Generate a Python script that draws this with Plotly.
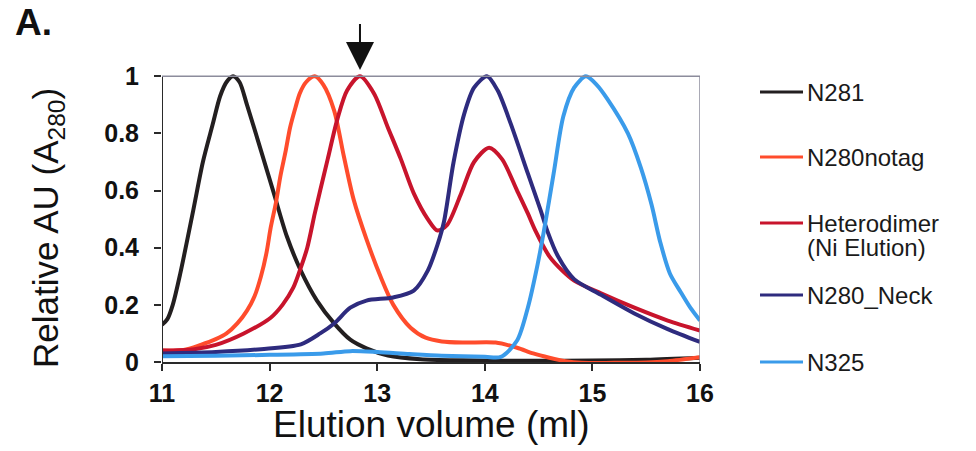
import numpy as np
import plotly.graph_objects as go

# ---- chromatogram traces (elution volume in ml, relative A280) ----
names = ["N281", "N280notag", "Heterodimer<br>(Ni Elution)", "N280_Neck", "N325"]
colors = ["#231f20", "#ff4c2c", "#c8142c", "#2e2b7e", "#3a9bea"]

n281_x = [11.0, 11.05, 11.1, 11.17, 11.29, 11.38, 11.47, 11.54, 11.6, 11.66, 11.72, 11.79,
          11.92, 12.04, 12.16, 12.29, 12.44, 12.6, 12.75, 12.9, 13.1, 13.4, 13.8, 14.5,
          15.0, 15.5, 16.0]
n281_y = [0.13, 0.15, 0.2, 0.31, 0.53, 0.7, 0.83, 0.93, 0.98, 1.0, 0.98, 0.9,
          0.74, 0.59, 0.44, 0.32, 0.215, 0.135, 0.078, 0.048, 0.023, 0.01, 0.006, 0.004,
          0.005, 0.008, 0.015]

notag_x = [11.0, 11.2, 11.36, 11.5, 11.6, 11.7, 11.79, 11.86, 11.92, 11.97, 12.01, 12.06,
           12.1, 12.15, 12.19, 12.24, 12.28, 12.34, 12.42, 12.5, 12.6, 12.69, 12.78, 12.9,
           13.03, 13.15, 13.31, 13.45, 13.6, 13.8, 14.1, 14.3, 14.45, 14.6, 14.75, 14.9,
           15.2, 15.5, 15.7, 16.0]
notag_y = [0.04, 0.042, 0.06, 0.08, 0.1, 0.135, 0.18, 0.23, 0.3, 0.38, 0.47, 0.56,
           0.65, 0.74, 0.82, 0.89, 0.94, 0.98, 1.0, 0.97, 0.88, 0.72, 0.57, 0.43,
           0.3, 0.2, 0.12, 0.085, 0.072, 0.068, 0.068, 0.05, 0.03, 0.015, 0.003, -0.003,
           -0.003, -0.002, 0.003, 0.017]

hetero_x = [11.0, 11.3, 11.5, 11.76, 12.01, 12.12, 12.22, 12.29, 12.35, 12.42, 12.47, 12.54,
            12.63, 12.72, 12.84, 12.97, 13.1, 13.22, 13.34, 13.47, 13.56, 13.65, 13.78, 13.9,
            14.04, 14.16, 14.3, 14.4, 14.47, 14.6, 14.72, 14.83, 15.08, 15.39, 15.7, 16.0]
hetero_y = [0.04, 0.045, 0.06, 0.1, 0.155, 0.2, 0.26, 0.33, 0.4, 0.52, 0.6, 0.71,
            0.85, 0.95, 1.0, 0.94, 0.82, 0.71, 0.59, 0.5, 0.46, 0.48, 0.59, 0.7,
            0.75, 0.71, 0.6, 0.52, 0.46, 0.37, 0.32, 0.285, 0.24, 0.19, 0.145, 0.11]

neck_x = [11.0, 11.5, 11.92, 12.29, 12.47, 12.6, 12.75, 12.9, 13.15, 13.34, 13.47, 13.56,
          13.62, 13.71, 13.81, 13.9, 14.02, 14.12, 14.24, 14.4, 14.52, 14.58, 14.68, 14.83,
          15.08, 15.39, 15.7, 16.0]
neck_y = [0.03, 0.035, 0.045, 0.062, 0.1, 0.135, 0.19, 0.215, 0.226, 0.25, 0.32, 0.41,
          0.49, 0.7, 0.87, 0.96, 1.0, 0.95, 0.835, 0.66, 0.53, 0.46, 0.37, 0.29,
          0.235, 0.17, 0.115, 0.07]

n325_x = [11.0, 11.5, 12.0, 12.5, 12.75, 13.0, 13.3, 13.6, 14.0, 14.15, 14.3, 14.4,
          14.49, 14.55, 14.64, 14.73, 14.83, 14.94, 15.04, 15.14, 15.33, 15.45, 15.55, 15.63,
          15.72, 15.82, 15.91, 16.0]
n325_y = [0.02, 0.022, 0.025, 0.03, 0.038, 0.035, 0.028, 0.022, 0.018, 0.018, 0.075, 0.19,
          0.34, 0.46, 0.66, 0.86, 0.96, 1.0, 0.97, 0.92, 0.8, 0.68, 0.55, 0.42,
          0.31, 0.245, 0.19, 0.145]

series_x = [n281_x, notag_x, hetero_x, neck_x, n325_x]
series_y = [n281_y, notag_y, hetero_y, neck_y, n325_y]

x_ticks = [11, 12, 13, 14, 15, 16]
y_ticks = [0, 0.2, 0.4, 0.6, 0.8, 1]
y_ticktext = ["0", "0.2", "0.4", "0.6", "0.8", "1"]

# ---- figure geometry (pixels) ----
W, H = 976, 451
ML, MR, MT, MB = 162, 276, 72, 89
PW, PH = W - ML - MR, H - MT - MB


def px_x(px):
    return (px - ML) / PW


def px_y(py):
    return (H - MB - py) / PH


FONT = "Liberation Sans, Arial, sans-serif"

fig = go.Figure()
for xs, ys, name, col in zip(series_x, series_y, names, colors):
    fig.add_trace(go.Scatter(
        x=xs, y=ys, mode="lines", name=name.replace("<br>", " "),
        line=dict(color=col, width=4, shape="spline", smoothing=0.8),
        showlegend=False,
    ))

# plot frame: black left axis, grey top/right border
fig.add_shape(type="line", xref="x", yref="y", x0=11, x1=11, y0=0, y1=1,
              line=dict(color="#2a2a2a", width=2))
fig.add_shape(type="line", xref="x", yref="y", x0=11, x1=16, y0=1, y1=1,
              line=dict(color="#8c8c9c", width=1.5))
fig.add_shape(type="line", xref="x", yref="y", x0=16, x1=16, y0=0, y1=1,
              line=dict(color="#8c8c9c", width=1.5))

# manual legend on the right
legend_rows = [92, 157, 223, 295, 362]
for name, col, ry in zip(names, colors, legend_rows):
    fig.add_shape(type="line", xref="paper", yref="paper",
                  x0=px_x(760), x1=px_x(803), y0=px_y(ry), y1=px_y(ry),
                  line=dict(color=col, width=3))
    for k, part in enumerate(name.split("<br>")):
        fig.add_annotation(xref="paper", yref="paper", x=px_x(805), y=px_y(ry + 24 * k),
                           text=part, showarrow=False, xanchor="left", yanchor="middle",
                           font=dict(family=FONT, size=24, color="#1a1a1a"))

# arrow marking the heterodimer peak
peak_x = hetero_x[int(np.argmax(hetero_y))]
fig.add_annotation(x=peak_x, y=px_y(70), xref="x", yref="paper", text=" ",
                   showarrow=True, ax=0, ay=-56, arrowhead=2, arrowsize=2.8,
                   arrowwidth=2, arrowcolor="#111111", standoff=0)

# panel letter
fig.add_annotation(xref="paper", yref="paper", x=px_x(13), y=px_y(22), text="<b>A.</b>",
                   showarrow=False, xanchor="left", yanchor="middle",
                   font=dict(family=FONT, size=37, color="#111111"))

# axis titles
fig.add_annotation(xref="paper", yref="paper", x=0.5, y=px_y(424),
                   text="Elution volume (ml)", showarrow=False,
                   xanchor="center", yanchor="middle",
                   font=dict(family=FONT, size=37, color="#111111"))
fig.add_annotation(xref="paper", yref="paper", x=px_x(48), y=px_y(228),
                   text="Relative AU (A<sub>280</sub>)", showarrow=False, textangle=-90,
                   xanchor="center", yanchor="middle",
                   font=dict(family=FONT, size=35, color="#111111"))

axis_common = dict(
    showgrid=False, zeroline=False, ticks="outside", ticklen=7, tickwidth=2,
    tickcolor="#2a2a2a",
    tickfont=dict(family=FONT, size=25, color="#111111", weight="bold"),
)
fig.update_xaxes(range=[11, 16], tickvals=x_ticks, showline=True, linecolor="#2a2a2a",
                 linewidth=2, ticklabelstandoff=1, **axis_common)
fig.update_yaxes(range=[0, 1.015], tickvals=y_ticks, ticktext=y_ticktext, showline=False,
                 ticklabelstandoff=10, **axis_common)

fig.update_layout(
    width=W, height=H,
    margin=dict(l=ML, r=MR, t=MT, b=MB, pad=0),
    paper_bgcolor="white", plot_bgcolor="white",
    showlegend=False,
)

fig.write_html("out.html")
